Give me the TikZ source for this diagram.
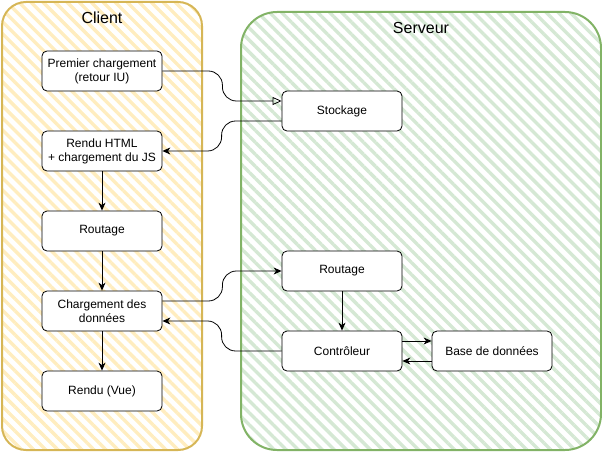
\documentclass[tikz,border=0pt]{standalone}
\usepackage{fontspec}
\setmainfont{Liberation Sans}
\definecolor{cliEdge}{HTML}{D6B656}
\definecolor{cliFill}{HTML}{FFEDBF}
\definecolor{srvEdge}{HTML}{82B366}
\definecolor{srvFill}{HTML}{D5E8D4}
\usepackage{tikz}
\usetikzlibrary{
  arrows.meta,
  positioning,
  patterns.meta,
}

\begin{document}
\begin{tikzpicture}[
  x=1pt, y=-1pt,
  >={Stealth[length=8pt,width=7pt,inset=2.5pt]},
  zone/.style ={line width=2pt, inner sep=0pt},
  cli/.style  ={zone, draw=cliEdge, rounded corners=24pt,
                pattern={Lines[angle=-45,distance=8.5pt,line width=3.4pt]},
                pattern color=cliFill,
                minimum width=200pt, minimum height=448pt},
  srv/.style  ={zone, draw=srvEdge, rounded corners=36pt,
                pattern={Lines[angle=-45,distance=8.5pt,line width=3.4pt]},
                pattern color=srvFill,
                minimum width=360pt, minimum height=438pt},
  ttl/.style  ={font=\fontsize{16}{19}\selectfont},
  box/.style  ={draw, line width=0.8pt, rounded corners=5pt, fill=white,
                minimum width=120pt, minimum height=40pt, inner sep=2pt,
                align=center, font=\fontsize{12}{14}\selectfont},
  flow/.style ={->, line width=0.8pt},
  softbend/.style={rounded corners=14pt},
]
  \useasboundingbox (0,0) rectangle (602,452);

  % Containers
  \node[cli] (client)  at (102,226) {};
  \node[srv] (serveur) at (421,231) {};
  \node[ttl] (tclient)  at (102,18) {Client};
  \node[ttl] (tserveur) at (421,28) {Serveur};

  % Client side
  \node[box] (premier) at (102, 71) {Premier chargement\\(retour IU)};
  \node[box] (rendu)   at (102,151) {Rendu HTML\\+ chargement du JS};
  \node[box] (routc)   at (102,231) {Routage};
  \node[box] (charg)   at (102,311) {Chargement des\\données};
  \node[box] (vue)     at (102,391) {Rendu (Vue)};

  % Server side
  \node[box] (stock)   at (342,111) {Stockage};
  \node[box] (routs)   at (342,271) {Routage};
  \node[box] (ctrl)    at (342,351) {Contrôleur};
  \node[box] (bdd)     at (492,351) {Base de données};

  % Client flow
  \draw[flow] (rendu) -- (routc);
  \draw[flow] (routc) -- (charg);
  \draw[flow] (charg) -- (vue);

  % Exchanges between client and server
  \draw[line width=0.8pt, softbend, -{Triangle[open,length=9pt,width=8pt]}]
    (premier.east) -- ++(60,0) |- ([yshift=10pt]stock.west);
  \draw[flow, softbend] ([yshift=-10pt]stock.west) -- ++(-60,0) |- (rendu.east);
  \draw[flow, softbend] ([yshift=10pt]charg.east) -- ++(60,0) |- (routs.west);
  \draw[flow, softbend] (ctrl.west) -- ++(-60,0) |- ([yshift=-10pt]charg.east);

  % Server flow
  \draw[flow] (routs) -- (ctrl);
  \draw[flow] ([yshift=10pt]ctrl.east) -- ([yshift=10pt]bdd.west);
  \draw[flow] ([yshift=-10pt]bdd.west) -- ([yshift=-10pt]ctrl.east);
\end{tikzpicture}
\end{document}
